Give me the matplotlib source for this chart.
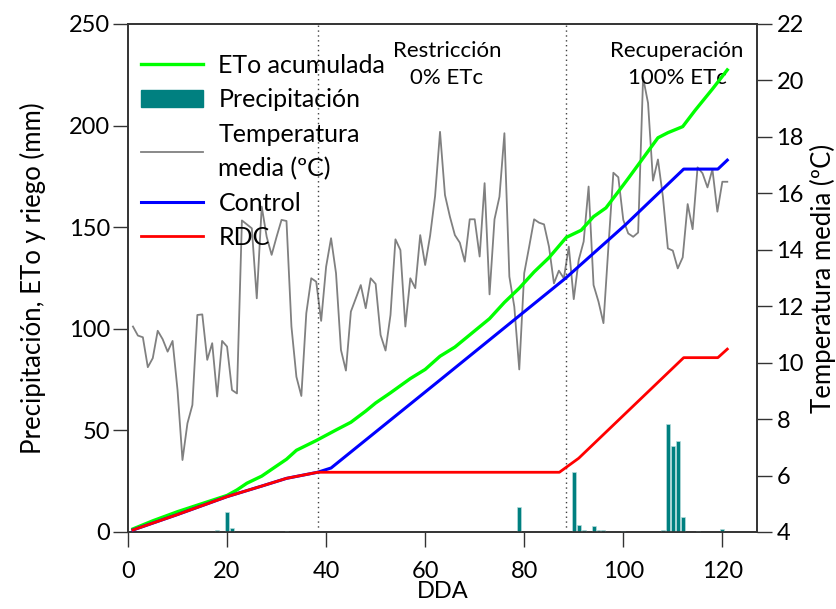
import matplotlib
matplotlib.use("Agg")
import matplotlib.pyplot as plt
from matplotlib.patches import Patch
from matplotlib.lines import Line2D

plt.rcParams['font.family'] = ['Lato', 'DejaVu Sans']

# ---------------- data ----------------
temp_days = list(range(1, 122))
temp_vals = [
    11.28, 10.96, 10.90, 9.84, 10.16, 11.13, 10.83, 10.39, 10.77, 9.03,
    6.55, 7.85, 8.50, 11.69, 11.71, 10.10, 10.69, 8.80, 10.77, 10.57,
    9.03, 8.91, 15.04, 14.90, 14.76, 12.28, 15.53, 14.46, 13.82, 14.46,
    15.06, 15.02, 11.28, 9.50, 8.82, 11.75, 12.99, 12.87, 11.48, 13.40,
    14.41, 13.17, 10.45, 9.72, 11.81, 12.28, 12.75, 11.93, 12.99, 12.79,
    10.98, 10.43, 11.69, 14.37, 13.99, 11.28, 12.99, 12.64, 14.52, 13.46,
    14.50, 15.90, 18.18, 15.94, 15.17, 14.52, 14.25, 13.58, 15.08, 15.08,
    13.76, 16.36, 12.42, 15.08, 15.88, 18.13, 13.05, 11.98, 9.76, 13.17,
    14.11, 15.08, 14.96, 14.90, 14.11, 12.81, 13.26, 12.99, 14.11, 12.25,
    13.64, 14.29, 16.24, 12.75, 12.16, 11.40, 14.11, 16.73, 16.57, 15.06,
    14.58, 14.46, 14.61, 20.10, 19.20, 16.45, 17.20, 15.88, 14.05, 13.97,
    13.34, 13.73, 15.62, 14.73, 16.92, 16.71, 16.21, 16.85, 15.35, 16.41,
    16.41,
]

eto_days = [1, 5, 10, 15, 20, 22, 24, 27, 30, 32, 34, 38, 42, 45, 48, 50, 53, 57,
            60, 63, 66, 70, 73, 76, 79, 82, 85, 88.5, 91.5, 94, 96.5, 99, 101,
            104, 107, 109, 112, 114.5, 118, 121]
eto_vals = [1.5, 5.5, 10.0, 14.0, 18.0, 20.7, 24.0, 27.5, 32.5, 35.8, 40.2, 45.0,
            50.2, 54.0, 59.5, 63.5, 68.5, 75.5, 80.0, 86.5, 91.0, 99.0, 105.0,
            113.0, 120.0, 128.0, 135.0, 145.0, 148.5, 155.2, 159.5, 167.5, 174.0,
            184.0, 194.0, 196.5, 199.5, 207.5, 218.0, 227.4]

control_days = [1, 10, 20, 27, 32, 38.3, 41, 63, 88.3, 100.4, 112.2, 119.1, 121]
control_vals = [1.0, 8.6, 17.4, 22.6, 26.4, 29.4, 31.5, 74.8, 124.8, 151.1,
                178.6, 178.6, 183.0]

rdc_days = [1, 10, 20, 27, 32, 38.3, 87.1, 91, 112.2, 119.1, 121]
rdc_vals = [1.0, 8.6, 17.4, 22.6, 26.4, 29.4, 29.4, 36.3, 85.8, 85.8, 90.0]

rain_days = [18, 20, 21, 32, 79, 90, 91, 92, 94, 95, 96, 100, 108, 109, 110,
             111, 112, 115, 120]
rain_vals = [0.8, 9.7, 1.8, 0.6, 12.4, 29.7, 3.4, 0.8, 2.8, 1.2, 0.8, 0.7, 1.0,
             53.3, 42.3, 44.9, 7.2, 0.7, 1.6]

phase_lines = [38.3, 88.4]
x_ticks = [0, 20, 40, 60, 80, 100, 120]
left_ticks = [0, 50, 100, 150, 200, 250]
right_ticks = [4, 6, 8, 10, 12, 14, 16, 18, 20, 22]

# ---------------- figure ----------------
fig = plt.figure(figsize=(8.37, 6.09), dpi=100)
ax = fig.add_axes([128/837, 1-532/609, (757-128)/837, (532-24)/609])
ax2 = ax.twinx()

ax.bar(rain_days, rain_vals, width=0.8, color='#008080', edgecolor='#b8dcdc',
       linewidth=0.5, zorder=2)
ax.plot(eto_days, eto_vals, color='#00FF00', lw=2.4, zorder=4)
ax.plot(control_days, control_vals, color='#0000FF', lw=2.2, zorder=4)
ax.plot(rdc_days, rdc_vals, color='#FF0000', lw=2.0, zorder=5)
for d in phase_lines:
    ax.axvline(d, color='#404040', ls=(0, (1, 2.5)), lw=1.0, zorder=1)

ax2.plot(temp_days, temp_vals, color='#808080', lw=1.3, zorder=3)

ax.set_xlim(0, 127)
ax.set_ylim(0, 250)
ax2.set_ylim(4, 22)
ax.set_xticks(x_ticks)
ax.set_yticks(left_ticks)
ax2.set_yticks(right_ticks)

ax.set_zorder(ax2.get_zorder() + 1)
ax.patch.set_visible(False)

for a in (ax, ax2):
    a.tick_params(axis='both', direction='out', length=11, width=1.0,
                  labelsize=17, color='#333333')
    for s in a.spines.values():
        s.set_linewidth(1.2)
        s.set_color('#333333')
ax.tick_params(axis='x', pad=10)
ax.tick_params(axis='y', pad=2)
ax2.tick_params(axis='y', pad=3)

ax.set_xlabel('DDA', fontsize=17, labelpad=-1)
ax.set_ylabel('Precipitación, ETo y riego (mm)', fontsize=18.5, labelpad=16)
ax2.set_ylabel('Temperatura media (ºC)', fontsize=18.5, labelpad=4)

ax.text(0.507, 0.966, 'Restricción\n0% ETc', transform=ax.transAxes,
        ha='center', va='top', fontsize=16, linespacing=1.45)
ax.text(0.873, 0.966, 'Recuperación\n100% ETc', transform=ax.transAxes,
        ha='center', va='top', fontsize=16, linespacing=1.45)

handles = [
    Line2D([], [], color='#00FF00', lw=2.4),
    Patch(color='#008080'),
    Line2D([], [], color='#808080', lw=1.3),
    Line2D([], [], color='#0000FF', lw=2.2),
    Line2D([], [], color='#FF0000', lw=2.0),
]
labels = ['ETo acumulada', 'Precipitación', 'Temperatura\nmedia (ºC)',
          'Control', 'RDC']
leg = ax.legend(handles, labels, loc='upper left', frameon=False, fontsize=18,
                handlelength=2.5, handletextpad=0.6, labelspacing=0.45,
                borderaxespad=0, borderpad=0,
                bbox_to_anchor=(13/629, 1 - 30/508))
for t in leg.get_texts():
    t.set_linespacing(1.6)

fig.savefig('out.png', dpi=100)
